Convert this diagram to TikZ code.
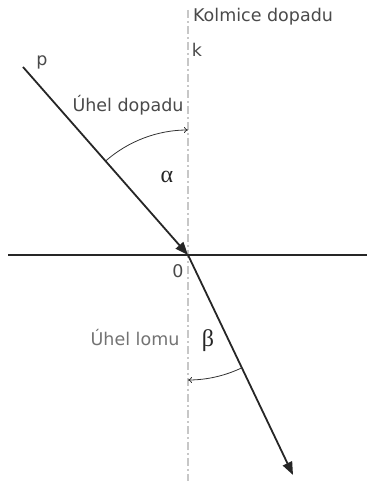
\documentclass[tikz,border=0pt]{standalone}
\usepackage{fontspec}
\setmainfont{DejaVu Sans}
\newfontfamily\grk{Liberation Serif}
\usetikzlibrary{arrows.meta,calc}
\definecolor{txt}{HTML}{4A4A4A}
\begin{document}
\begin{tikzpicture}[x=1pt,y=1pt,
  lbl/.style={text=txt,font=\fontsize{17.5}{20}\selectfont,inner sep=0pt},
  greek/.style={text=black!85,font=\grk\fontsize{24}{26}\selectfont,inner sep=0pt},
  ray/.style={line width=1.8pt,black!85,-{Triangle[length=13pt,width=10pt]}},
  anglearc/.style={line width=0.8pt,black!80,-{To[length=4pt,width=6pt]}},
  normal/.style={line width=1.6pt,black!22,dash pattern=on 8pt off 3pt on 2pt off 3pt}]
\useasboundingbox (0,0) rectangle (367,481);
\coordinate (O) at (188,226);
\coordinate (P) at (23,414);
\coordinate (E) at (293,6);
\coordinate (kt) at (188,471);
\coordinate (kb) at (188,0);
\coordinate (hl) at (8,226);
\coordinate (hr) at (367,226);
\draw[normal] (kt) -- (kb);
\draw[line width=1.3pt,black!85] (hl) -- (hr);
\draw[ray] (P) -- (O);
\draw[ray] (O) -- (E);
\draw[anglearc] (O) ++(131.3:125) arc[start angle=131.3,end angle=90,radius=125];
\draw[anglearc] (O) ++(-64.5:125) arc[start angle=-64.5,end angle=-90,radius=125];
\node[lbl] (kd) at (263,464) {Kolmice dopadu};
\node[lbl] (k) at (197,431) {k};
\node[lbl] (p) at (42,419) {p};
\node[lbl] (ud) at (128,376) {Úhel dopadu};
\node[greek] (al) at (167,304) {α};
\node[lbl] (z) at (178,210) {0};
\node[lbl,text=black!55] (ul) at (135,143) {Úhel lomu};
\node[greek] (be) at (208,140) {β};
\end{tikzpicture}
\end{document}
